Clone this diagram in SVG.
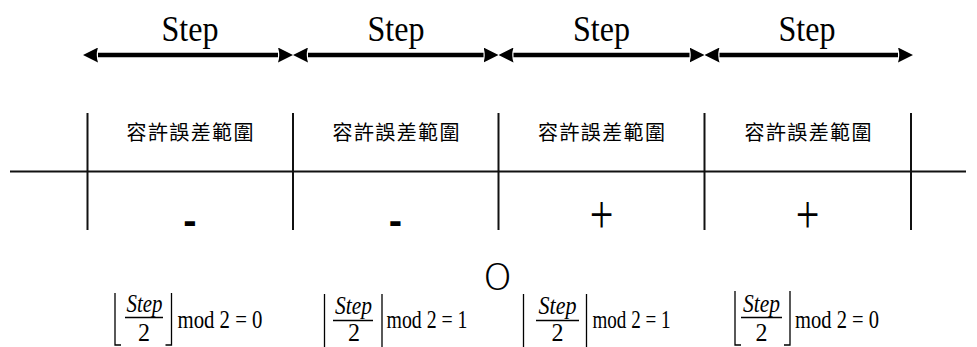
<svg xmlns="http://www.w3.org/2000/svg" width="977" height="347" viewBox="0 0 977 347">
<defs>
<style>
.grid{stroke:#111;stroke-width:2;fill:none}
.br{stroke:#000;stroke-width:1.3;fill:none}
.arrow{stroke:#000;stroke-width:4.5;fill:none;marker-start:url(#ah);marker-end:url(#ah)}
.step{font-family:"Liberation Serif",serif;font-size:35px;text-anchor:middle;fill:#000}
.cjk{font-family:"Noto Sans CJK TC","Noto Sans CJK SC",sans-serif;font-size:20px;text-anchor:middle;fill:#000}
.minus{font-family:"Liberation Sans",sans-serif;font-size:40px;font-weight:bold;text-anchor:middle;fill:#000}
.plus{font-family:"Liberation Serif",serif;font-size:42px;text-anchor:middle;fill:#000}
.fi{font-family:"Liberation Serif",serif;font-style:italic;font-size:26px;text-anchor:middle;fill:#000}
.fm{font-family:"Liberation Serif",serif;font-size:26px;fill:#000}
.fd{font-family:"Liberation Serif",serif;font-size:26px;text-anchor:middle;fill:#000}
.zero{font-family:"Lato","Liberation Sans",sans-serif;font-weight:300;font-size:37.5px;text-anchor:middle;fill:#000}
</style>
<marker id="ah" viewBox="0 0 15 15" refX="0" refY="7.5" markerWidth="15" markerHeight="15" markerUnits="userSpaceOnUse" orient="auto-start-reverse">
<path d="M0,0 L15,7.5 L0,15 Q2.5,7.5 0,0 Z" fill="#000"/>
</marker>
</defs>

<g id="connectors">
<line class="arrow" x1="98" y1="55" x2="278" y2="55"/>
<line class="arrow" x1="308" y1="55" x2="483.5" y2="55"/>
<line class="arrow" x1="513.5" y1="55" x2="689.5" y2="55"/>
<line class="arrow" x1="719.5" y1="55" x2="898" y2="55"/>
</g>

<g id="step-labels">
<text class="step" x="190" y="41" textLength="57" lengthAdjust="spacingAndGlyphs">Step</text>
<text class="step" x="396" y="41" textLength="57" lengthAdjust="spacingAndGlyphs">Step</text>
<text class="step" x="601.5" y="41" textLength="57" lengthAdjust="spacingAndGlyphs">Step</text>
<text class="step" x="807" y="41" textLength="57" lengthAdjust="spacingAndGlyphs">Step</text>
</g>

<g id="axis">
<line class="grid" x1="10" y1="171.5" x2="966" y2="171.5"/>
<line class="grid" x1="87.5" y1="113" x2="87.5" y2="230"/>
<line class="grid" x1="293" y1="113" x2="293" y2="230"/>
<line class="grid" x1="498.5" y1="113" x2="498.5" y2="230"/>
<line class="grid" x1="704.5" y1="113" x2="704.5" y2="230"/>
<line class="grid" x1="911" y1="113" x2="911" y2="230"/>
</g>

<g id="col1">
<text class="cjk" x="190" y="140" textLength="127" lengthAdjust="spacing">容許誤差範圍</text>
<text class="minus" x="190" y="234">-</text>
</g>
<g id="col2">
<text class="cjk" x="396" y="140" textLength="127" lengthAdjust="spacing">容許誤差範圍</text>
<text class="minus" x="395.5" y="234">-</text>
</g>
<g id="col3">
<text class="cjk" x="601.5" y="140" textLength="127" lengthAdjust="spacing">容許誤差範圍</text>
<text class="plus" transform="translate(601.5,233) scale(1,1.3)">+</text>
</g>
<g id="col4">
<text class="cjk" x="808" y="140" textLength="127" lengthAdjust="spacing">容許誤差範圍</text>
<text class="plus" transform="translate(807.5,233) scale(1,1.3)">+</text>
</g>

<g id="origin">
<text class="zero" transform="translate(497.5,290) scale(1.2,1)">0</text>
</g>

<g id="formula1">
<path class="br" d="M121,345 H115 V293 M165.5,345 H171.5 V293"/>
<text class="fi" x="144.5" y="311.5" textLength="36" lengthAdjust="spacingAndGlyphs">Step</text>
<line class="br" x1="125" y1="317.5" x2="163" y2="317.5"/>
<text class="fd" x="144" y="341" textLength="12" lengthAdjust="spacingAndGlyphs">2</text>
<text class="fm" x="177.5" y="328" textLength="85" lengthAdjust="spacingAndGlyphs">mod 2 = 0</text>
</g>

<g id="formula2">
<path class="br" d="M324.5,347 V294 M382,347 V294"/>
<text class="fi" x="353.5" y="314" textLength="37" lengthAdjust="spacingAndGlyphs">Step</text>
<line class="br" x1="333" y1="320.5" x2="373" y2="320.5"/>
<text class="fd" x="354" y="341" textLength="12" lengthAdjust="spacingAndGlyphs">2</text>
<text class="fm" x="386.5" y="328" textLength="81" lengthAdjust="spacingAndGlyphs">mod 2 = 1</text>
</g>

<g id="formula3">
<path class="br" d="M523.5,347 V294 M586.5,347 V294"/>
<text class="fi" x="557.5" y="314" textLength="38" lengthAdjust="spacingAndGlyphs">Step</text>
<line class="br" x1="536" y1="320.5" x2="579" y2="320.5"/>
<text class="fd" x="557.5" y="341" textLength="12" lengthAdjust="spacingAndGlyphs">2</text>
<text class="fm" x="592.5" y="328" textLength="78" lengthAdjust="spacingAndGlyphs">mod 2 = 1</text>
</g>

<g id="formula4">
<path class="br" d="M741,345 H735 V291 M784,345 H790 V291"/>
<text class="fi" x="761.5" y="311.5" textLength="37" lengthAdjust="spacingAndGlyphs">Step</text>
<line class="br" x1="741" y1="317.5" x2="782" y2="317.5"/>
<text class="fd" x="761.5" y="341" textLength="12" lengthAdjust="spacingAndGlyphs">2</text>
<text class="fm" x="795" y="328" textLength="84" lengthAdjust="spacingAndGlyphs">mod 2 = 0</text>
</g>
</svg>
